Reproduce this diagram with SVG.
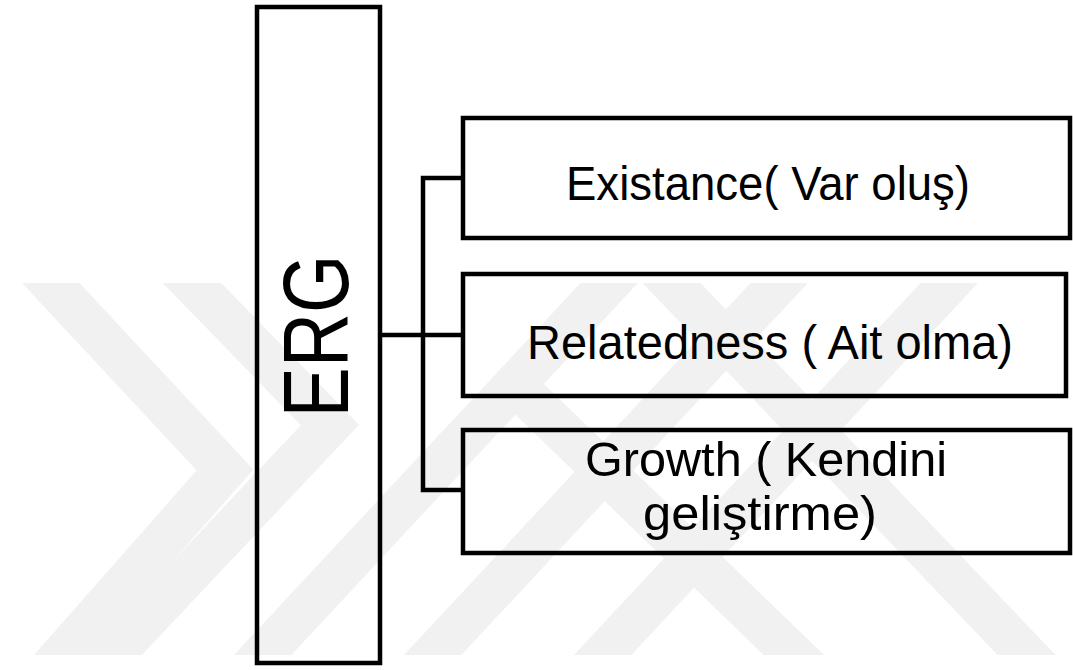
<svg xmlns="http://www.w3.org/2000/svg" width="1073" height="670" viewBox="0 0 1073 670">
  <style>
    .box { fill: none; stroke: #000; stroke-width: 4.5; }
    .wire { fill: none; stroke: #000; stroke-width: 4.5; stroke-linejoin: miter; }
    .lbl { font-family: "Liberation Sans", Arial, sans-serif; font-size: 48px; fill: #000; text-anchor: middle; }
    .big { font-family: "Liberation Sans", Arial, sans-serif; font-size: 93px; fill: #000; text-anchor: middle; }
    .wm { fill: none; stroke: #f1f1f1; stroke-width: 42; stroke-linejoin: miter; stroke-linecap: butt; }
  </style>
  <defs>
    <clipPath id="wmclip"><rect x="0" y="283" width="1073" height="372"/></clipPath>
  </defs>
  <rect width="1073" height="670" fill="#fff"/>
  <g id="watermark" clip-path="url(#wmclip)">
    <polyline class="wm" points="20,250 225,470 40,680"/>
    <polyline class="wm" points="160,250 330,425 80,690"/>
    <line class="wm" x1="230" y1="690" x2="640" y2="250"/>
    <line class="wm" x1="400" y1="690" x2="810" y2="250"/>
    <line class="wm" x1="570" y1="690" x2="980" y2="250"/>
    <line class="wm" x1="640" y1="250" x2="1060" y2="690"/>
    <line class="wm" x1="520" y1="390" x2="830" y2="690"/>
  </g>
  <g id="connectors">
    <path class="wire" d="M380,335 H463 M463,178 H423 V490 H463"/>
  </g>
  <g id="erg">
    <rect class="box" x="257" y="7" width="123" height="656"/>
    <text class="big" transform="translate(348,336) rotate(-90)" x="0" y="0" textLength="163" lengthAdjust="spacingAndGlyphs">ERG</text>
  </g>
  <g id="existance">
    <rect class="box" x="463" y="118" width="607" height="120"/>
    <text class="lbl" x="768" y="200" textLength="404" lengthAdjust="spacingAndGlyphs">Existance( Var oluş)</text>
  </g>
  <g id="relatedness">
    <rect class="box" x="463" y="274" width="603" height="122"/>
    <text class="lbl" x="770" y="359" textLength="486" lengthAdjust="spacingAndGlyphs">Relatedness ( Ait olma)</text>
  </g>
  <g id="growth">
    <rect class="box" x="463" y="430" width="607" height="123"/>
    <text class="lbl" x="766" y="476" textLength="362" lengthAdjust="spacingAndGlyphs">Growth ( Kendini</text>
    <text class="lbl" x="760" y="530" textLength="234" lengthAdjust="spacingAndGlyphs">geliştirme)</text>
  </g>
</svg>
